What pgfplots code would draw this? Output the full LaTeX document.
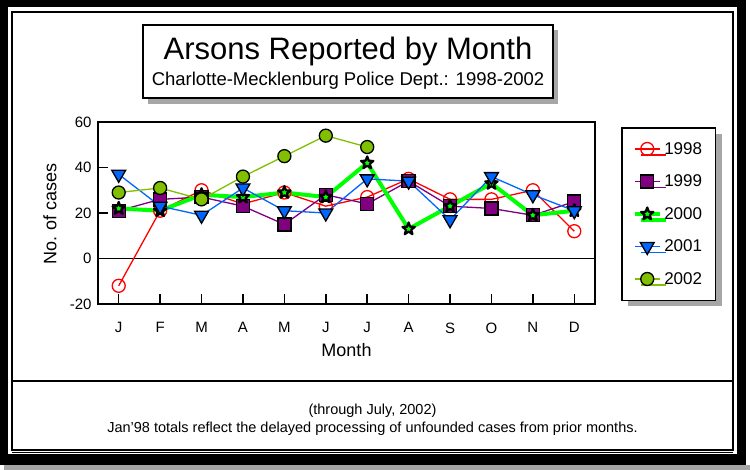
\documentclass[border=0pt]{standalone}
\usepackage{fontspec}
\setmainfont{Liberation Sans}
\usepackage{pgfplots}
\pgfplotsset{compat=1.18}
\usetikzlibrary{shadows}

\definecolor{c98}{RGB}{255,0,0}
\definecolor{c99}{RGB}{128,0,128}
\definecolor{c00}{RGB}{0,255,0}
\definecolor{c01}{RGB}{0,102,255}
\definecolor{c02}{RGB}{128,192,0}

\newcommand{\fs}[1]{\fontsize{#1}{#1}\selectfont}

% filled five-pointed star
\pgfdeclareplotmark{pstar}{%
  \pgfpathmoveto{\pgfqpointpolar{90}{\pgfplotmarksize}}%
  \pgfpathlineto{\pgfqpointpolar{126}{0.42\pgfplotmarksize}}%
  \pgfpathlineto{\pgfqpointpolar{162}{\pgfplotmarksize}}%
  \pgfpathlineto{\pgfqpointpolar{198}{0.42\pgfplotmarksize}}%
  \pgfpathlineto{\pgfqpointpolar{234}{\pgfplotmarksize}}%
  \pgfpathlineto{\pgfqpointpolar{270}{0.42\pgfplotmarksize}}%
  \pgfpathlineto{\pgfqpointpolar{306}{\pgfplotmarksize}}%
  \pgfpathlineto{\pgfqpointpolar{342}{0.42\pgfplotmarksize}}%
  \pgfpathlineto{\pgfqpointpolar{18}{\pgfplotmarksize}}%
  \pgfpathlineto{\pgfqpointpolar{54}{0.42\pgfplotmarksize}}%
  \pgfpathclose
  \pgfusepathqfillstroke}

\begin{document}
\begin{tikzpicture}
\path[use as bounding box] (0pt,0pt) rectangle (750pt,-470pt);
% frame
\fill[gray!70] (4pt,-465pt) rectangle (750pt,-470pt);
\fill[black] (0pt,0pt) rectangle (746pt,-465pt);
\fill[white] (8pt,-7pt) rectangle (737pt,-454pt);
\draw[line width=2pt] (12pt,-12pt) rectangle (733pt,-450pt);
\draw[line width=1pt] (12pt,-452.5pt) -- (733pt,-452.5pt);
\draw[line width=2pt] (12pt,-381pt) -- (733pt,-381pt);
% title box
\fill[gray!70] (148pt,-30pt) rectangle (558pt,-104pt);
\draw[line width=2pt,fill=white] (143pt,-25pt) rectangle (553pt,-98pt);
\node at (348pt,-51pt) {\fs{31}Arsons Reported by Month};
\node at (348pt,-81pt) {\fs{18.5}Charlotte-Mecklenburg Police Dept.: 1998-2002};
% notes
\node at (372.5pt,-411pt) {\fs{14.5}(through July, 2002)};
\node at (372.5pt,-429pt) {\fs{14.5}Jan'98 totals reflect the delayed processing of unfounded cases from prior months.};
% axis labels
\node[rotate=90] at (50pt,-214pt) {\fs{18}No. of cases};
\node at (346.5pt,-350pt) {\fs{18}Month};

\begin{axis}[
  at={(98pt,-304pt)}, anchor=south west,
  scale only axis, width=497pt, height=182pt,
  xmin=0.5, xmax=12.5, ymin=-20, ymax=60,
  axis line style={line width=1.5pt},
  xtick={1,...,12},
  xticklabels={J,F,M,A,M,J,J,A,S,O,N,D},
  ytick={-20,0,20,40,60},
  xtick pos=left, ytick pos=left,
  tick align=inside,
  major tick length=10pt,
  tick style={line width=1.5pt,black},
  /pgf/number format/assume math mode=true,
  ticklabel style={font=\fs{15}},
  xticklabel style={yshift=-15pt},
  yticklabel style={xshift=-3pt},
  clip=false,
  legend cell align=left,
  legend style={at={(1,1)}, anchor=north west, xshift=26pt, yshift=-5pt,
    draw=black, line width=1.5pt, fill=white,
    drop shadow={shadow xshift=6pt, shadow yshift=-6pt, fill=gray!70, opacity=1},
    font=\fs{17}, inner xsep=11pt, inner ysep=5pt, row sep=0pt,
    nodes={minimum height=32.5pt, inner ysep=0pt, inner xsep=2.5pt}},
  legend image code/.code={\draw[mark repeat=2,mark phase=2,#1] plot coordinates {(0pt,0pt) (12.5pt,0pt) (25pt,0pt)};},
]
\draw[line width=1.5pt] (axis cs:0.5,0) -- (axis cs:12.5,0);

\addplot[c98, line width=1.3pt, mark=o, mark size=6.5pt, mark options={line width=1.3pt, c98, fill=none}]
  coordinates {(1,-12)(2,21)(3,30)(4,24)(5,29)(6,23)(7,27)(8,35)(9,26)(10,26)(11,30)(12,12)};
\addplot[c99, line width=1.3pt, mark=square*, mark size=6.5pt, mark options={line width=1.3pt, draw=black, fill=c99}]
  coordinates {(1,21)(2,26)(3,27)(4,23)(5,15)(6,28)(7,24)(8,34)(9,23)(10,22)(11,19)(12,25)};
\addplot[c00, line width=4pt, mark=pstar, mark size=6.5pt, mark options={line width=2.2pt, draw=black, fill=c00, line join=round}]
  coordinates {(1,22)(2,21)(3,28)(4,27)(5,29)(6,27)(7,42)(8,13)(9,23)(10,33)(11,19)(12,21)};
\addplot[c01, line width=1.3pt, mark=triangle*, mark size=8pt, mark options={line width=1.3pt, draw=black, fill=c01, rotate=180}]
  coordinates {(1,37)(2,23)(3,19)(4,31)(5,21)(6,20)(7,35)(8,34)(9,17)(10,36)(11,28)(12,21)};
\addplot[c02, line width=1.3pt, mark=*, mark size=6.5pt, mark options={line width=1.3pt, draw=black, fill=c02}]
  coordinates {(1,29)(2,31)(3,26)(4,36)(5,45)(6,54)(7,49)};
\legend{1998,1999,2000,2001,2002}
\end{axis}
\end{tikzpicture}
\end{document}
